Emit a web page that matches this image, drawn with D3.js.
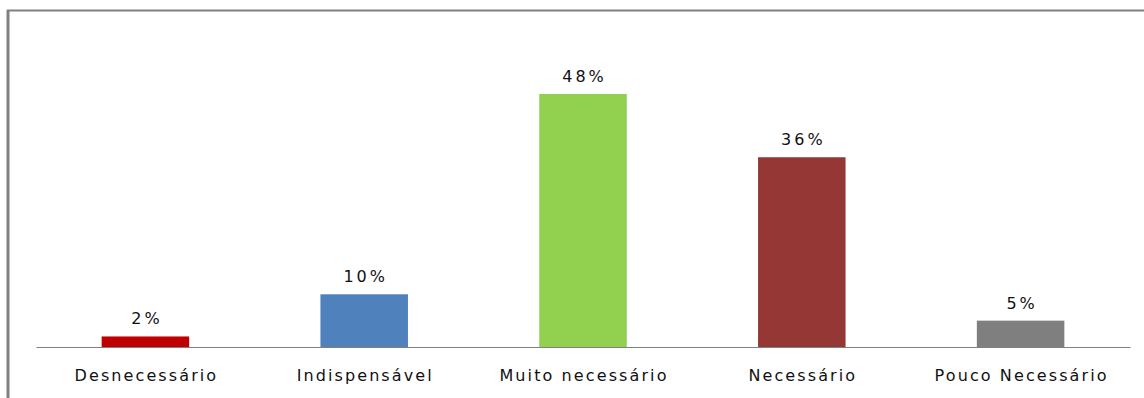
<!DOCTYPE html>
<html>
<head>
<meta charset="utf-8">
<script src="https://cdn.jsdelivr.net/npm/d3@7"></script>
<style>
  html, body { margin: 0; padding: 0; background: #ffffff; }
  svg { display: block; }
  text { font-family: "DejaVu Sans", Verdana, sans-serif; }
</style>
</head>
<body>
<svg id="chart" width="1144" height="398"></svg>
<script>
const categories = ["Desnecessário", "Indispensável", "Muito necessário", "Necessário", "Pouco Necessário"];
const values = [2, 10, 48, 36, 5];
const valueLabels = ["2%", "10%", "48%", "36%", "5%"];
const colors = ["#C00000", "#4F81BD", "#92D050", "#953735", "#7F7F7F"];

const svg = d3.select("#chart");
const W = 1144, H = 398;

// chart frame: top and left border lines
svg.append("line")
  .attr("x1", 7).attr("x2", W).attr("y1", 10.5).attr("y2", 10.5)
  .attr("stroke", "#808080").attr("stroke-width", 2);
svg.append("line")
  .attr("x1", 8).attr("x2", 8).attr("y1", 10).attr("y2", H)
  .attr("stroke", "#808080").attr("stroke-width", 3);

const plot = { left: 36, right: 1130, baseline: 347 };

const x = d3.scaleBand()
  .domain(categories)
  .range([plot.left, plot.right])
  .paddingInner(0.6)
  .paddingOuter(0.3);

const y = d3.scaleLinear()
  .domain([0, 48])
  .range([plot.baseline, 94]);

const g = svg.append("g");

g.selectAll("rect.bar")
  .data(values)
  .join("rect")
  .attr("class", "bar")
  .attr("x", (d, i) => x(categories[i]))
  .attr("width", x.bandwidth())
  .attr("y", d => y(d))
  .attr("height", d => y(0) - y(d))
  .attr("fill", (d, i) => colors[i]);

g.selectAll("text.val")
  .data(values)
  .join("text")
  .attr("class", "val")
  .attr("x", (d, i) => x(categories[i]) + x.bandwidth() / 2 + 1.5)
  .attr("y", d => y(d) - 12)
  .attr("text-anchor", "middle")
  .attr("font-size", 16)
  .attr("letter-spacing", 3)
  .attr("fill", "#111")
  .text((d, i) => valueLabels[i]);

// category axis
const axis = d3.axisBottom(x).tickSize(0).tickPadding(23);
const ax = svg.append("g")
  .attr("transform", `translate(0,${plot.baseline})`)
  .call(axis);
ax.select(".domain").attr("stroke", "#808080").attr("stroke-width", 1.2);
ax.selectAll("text")
  .attr("font-size", 16)
  .attr("letter-spacing", 2.1)
  .attr("dx", 1)
  .attr("fill", "#111")
  .style("font-family", "'DejaVu Sans', Verdana, sans-serif");
</script>
</body>
</html>
